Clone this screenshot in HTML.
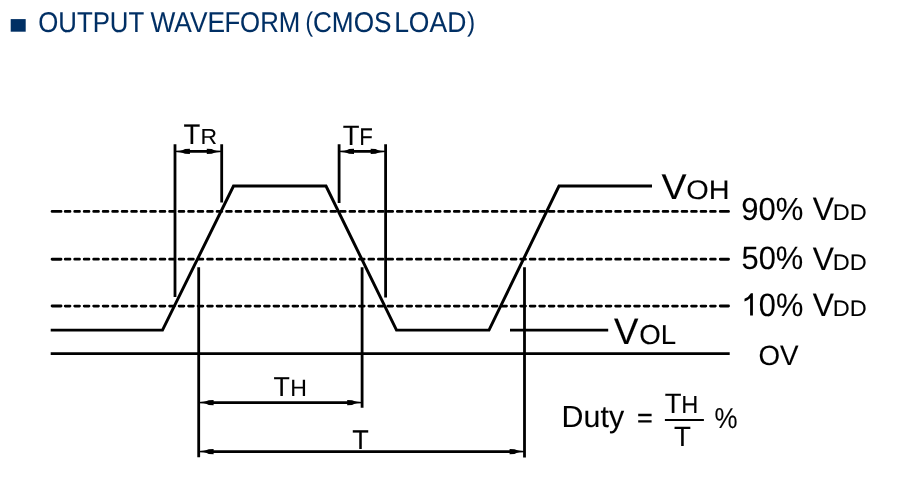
<!DOCTYPE html>
<html><head><meta charset="utf-8">
<style>
html,body{margin:0;padding:0;background:#fff;}
body{width:906px;height:498px;overflow:hidden;position:relative;font-family:"Liberation Sans",sans-serif;}
svg{position:absolute;left:0;top:0;will-change:transform;}
text{font-family:"Liberation Sans",sans-serif;text-rendering:geometricPrecision;fill:#000;stroke:#000;stroke-width:0.35;}
text.t{fill:#002f64;stroke:#002f64;stroke-width:0.3;}
.l{stroke:#000;stroke-width:2.8;fill:none;stroke-linecap:butt;stroke-linejoin:miter;}
.d{stroke:#000;stroke-width:2.75;fill:none;stroke-dasharray:4.8 4.69;stroke-linecap:round;}
.w{stroke-width:2.95;}
</style></head><body>
<svg width="906" height="498" viewBox="0 0 906 498">
<rect x="10.7" y="19.1" width="15" height="12.6" fill="#002f64"/>
<path class="l" style="stroke-width:2.9;stroke-linecap:round" d="M52.1 211.4H61M52.1 259.2H61M52.1 306H61M720.3 211.4H728.5M720.3 259.2H728.5M720.3 306H728.5"/>
<path class="d" d="M65.2 211.4H718M65.2 259.2H718M65.2 306H718"/>
<path class="l" d="M50.7 353.7H729.7"/>
<path class="l w" d="M50.7 330.1H162.5L233.5 186H326L396.5 330.1H489L559 186H652"/>
<path class="l" d="M510 330.1H608.2"/>
<path class="l" d="M175 144.2V297M221.7 144.2V202.5M339.1 144.2V203M385.6 144.2V297.6"/>
<path class="l" style="stroke-width:2.6" d="M189 151.4H207.7M353.1 151.4H371.6M212.7 402.6H348.1M212.7 451.6H510.5"/>
<path class="l" d="M198.7 267.3V457.3M362.1 267.3V407.8M524.5 267.3V457.5"/>
<g fill="#000">
<path d="M175.0 152.10L180.0 152.40L183.0 152.90L185.0 153.85L189.9 154.10L189.9 148.70L185.0 148.95L183.0 149.90L180.0 150.40L175.0 150.70Z"/>
<path d="M221.7 152.10L216.7 152.40L213.7 152.90L211.7 153.85L206.8 154.10L206.8 148.70L211.7 148.95L213.7 149.90L216.7 150.40L221.7 150.70Z"/>
<path d="M339.1 152.10L344.1 152.40L347.1 152.90L349.1 153.85L354.0 154.10L354.0 148.70L349.1 148.95L347.1 149.90L344.1 150.40L339.1 150.70Z"/>
<path d="M385.6 152.10L380.6 152.40L377.6 152.90L375.6 153.85L370.7 154.10L370.7 148.70L375.6 148.95L377.6 149.90L380.6 150.40L385.6 150.70Z"/>
<path d="M198.7 403.30L203.7 403.60L206.7 404.10L208.7 405.05L213.6 405.30L213.6 399.90L208.7 400.15L206.7 401.10L203.7 401.60L198.7 401.90Z"/>
<path d="M362.1 403.30L357.1 403.60L354.1 404.10L352.1 405.05L347.2 405.30L347.2 399.90L352.1 400.15L354.1 401.10L357.1 401.60L362.1 401.90Z"/>
<path d="M198.7 452.30L203.7 452.60L206.7 453.10L208.7 454.05L213.6 454.30L213.6 448.90L208.7 449.15L206.7 450.10L203.7 450.60L198.7 450.90Z"/>
<path d="M524.5 452.30L519.5 452.60L516.5 453.10L514.5 454.05L509.6 454.30L509.6 448.90L514.5 449.15L516.5 450.10L519.5 450.60L524.5 450.90Z"/>
</g>
<path d="M664.9 419.95H703.9" stroke="#000" stroke-width="2.1"/>
<path id="one" fill="#000" d="M752.9 315.6H750.1V298.2Q747.6 300.5 744.5 301.5V298.8Q748.8 297 750.9 293.2H752.9Z"/>
<path d="M638.2 415H651.6M638.2 421.4H651.6" stroke="#000" stroke-width="2.3" fill="none"/>
<text class="t" transform="translate(38.28 31.82) scale(0.25764 0.28672)" font-size="100" stroke-width="1.29">OUTPUT</text>
<text class="t" transform="translate(150.58 31.80) scale(0.26237 0.28634)" font-size="100" stroke-width="1.28">WAVE</text>
<text class="t" transform="translate(224.39 31.82) scale(0.25757 0.28672)" font-size="100" stroke-width="1.29">FORM</text>
<text class="t" transform="translate(305.52 31.40) scale(0.22253 0.27049)" font-size="100" stroke-width="1.43">(</text>
<text class="t" transform="translate(312.97 31.82) scale(0.26177 0.28672)" font-size="100" stroke-width="1.28">CMOS</text>
<text class="t" transform="translate(394.13 31.82) scale(0.26492 0.28672)" font-size="100" stroke-width="1.27">LOAD</text>
<text class="t" transform="translate(467.26 31.40) scale(0.23573 0.27049)" font-size="100" stroke-width="1.39">)</text>
<text class="" transform="translate(183.48 143.90) scale(0.27413 0.28198)" font-size="100" stroke-width="1.62">T</text>
<text class="" transform="translate(200.52 143.90) scale(0.22905 0.21657)" font-size="100" stroke-width="2.02">R</text>
<text class="" transform="translate(342.78 144.80) scale(0.27413 0.28053)" font-size="100" stroke-width="1.62">T</text>
<text class="" transform="translate(359.27 144.80) scale(0.22301 0.24274)" font-size="100" stroke-width="1.93">F</text>
<text class="" transform="translate(661.54 198.90) scale(0.37526 0.35756)" font-size="100" stroke-width="1.23">V</text>
<text class="" transform="translate(686.33 198.94) scale(0.28955 0.26977)" font-size="100" stroke-width="1.61">OH</text>
<text class="" transform="translate(613.94 343.80) scale(0.36615 0.36629)" font-size="100" stroke-width="1.23">V</text>
<text class="" transform="translate(639.19 343.83) scale(0.27605 0.27401)" font-size="100" stroke-width="1.64">OL</text>
<text class="" transform="translate(741.25 220.49) scale(0.31007 0.31921)" font-size="100" stroke-width="1.43">90%</text>
<text class="" transform="translate(812.86 220.10) scale(0.31753 0.32268)" font-size="100" stroke-width="1.41">V</text>
<text class="" transform="translate(832.77 220.10) scale(0.23508 0.22384)" font-size="100" stroke-width="1.96">DD</text>
<text class="" transform="translate(741.46 269.48) scale(0.30897 0.32344)" font-size="100" stroke-width="1.42">50%</text>
<text class="" transform="translate(812.86 269.50) scale(0.31753 0.32268)" font-size="100" stroke-width="1.41">V</text>
<text class="" transform="translate(832.77 269.50) scale(0.23508 0.22384)" font-size="100" stroke-width="1.96">DD</text>
<text class="" transform="translate(758.80 315.68) scale(0.30789 0.32344)" font-size="100" stroke-width="1.43">0%</text>
<text class="" transform="translate(812.86 315.70) scale(0.31753 0.32268)" font-size="100" stroke-width="1.41">V</text>
<text class="" transform="translate(832.77 315.70) scale(0.23508 0.22384)" font-size="100" stroke-width="1.96">DD</text>
<text class="" transform="translate(758.49 365.43) scale(0.27709 0.27825)" font-size="100" stroke-width="1.62">OV</text>
<text class="" transform="translate(273.60 395.90) scale(0.26705 0.27471)" font-size="100" stroke-width="1.66">T</text>
<text class="" transform="translate(290.21 395.90) scale(0.23094 0.23402)" font-size="100" stroke-width="1.94">H</text>
<text class="" transform="translate(352.29 448.60) scale(0.27059 0.27181)" font-size="100" stroke-width="1.66">T</text>
<text class="" transform="translate(561.61 427.40) scale(0.30373 0.30451)" font-size="100" stroke-width="1.48">Duty</text>
<text class="" transform="translate(664.78 413.40) scale(0.27413 0.28053)" font-size="100" stroke-width="1.62">T</text>
<text class="" transform="translate(681.36 413.40) scale(0.23631 0.24710)" font-size="100" stroke-width="1.86">H</text>
<text class="" transform="translate(673.88 445.70) scale(0.27590 0.27907)" font-size="100" stroke-width="1.62">T</text>
<text class="" transform="translate(714.38 428.03) scale(0.25921 0.28726)" font-size="100" stroke-width="1.65">%</text>
</svg>
</body></html>
